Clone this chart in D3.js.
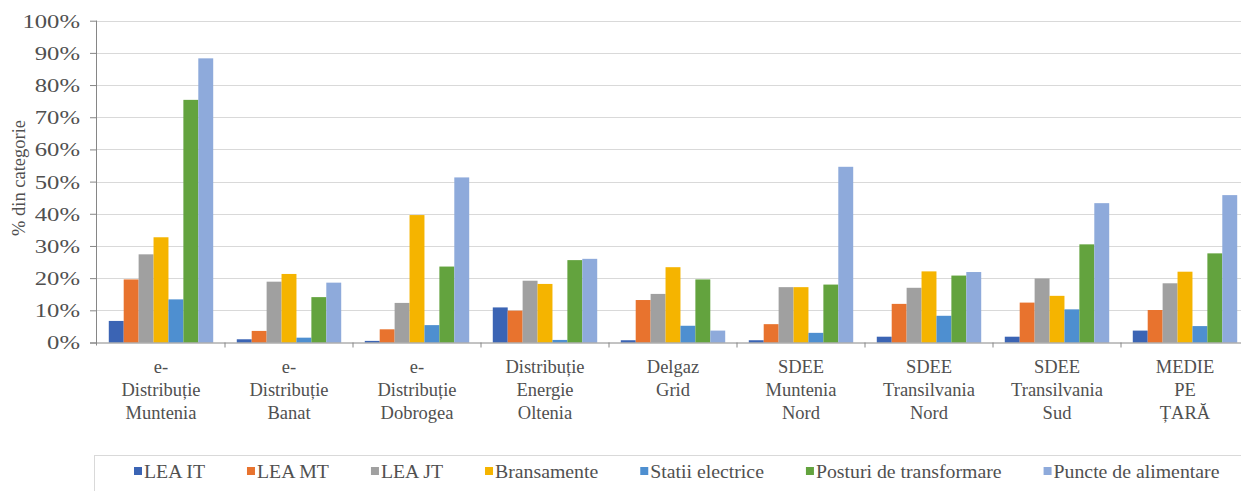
<!DOCTYPE html>
<html><head><meta charset="utf-8">
<script src="https://cdn.jsdelivr.net/npm/d3@7"></script>
<style>body{margin:0;background:#fff}svg{display:block}</style>
</head><body><svg id="c" width="1241" height="491"></svg>
<script>
const categories = [
  ["e-","Distribuție","Muntenia"],
  ["e-","Distribuție","Banat"],
  ["e-","Distribuție","Dobrogea"],
  ["Distribuție","Energie","Oltenia"],
  ["Delgaz","Grid"],
  ["SDEE","Muntenia","Nord"],
  ["SDEE","Transilvania","Nord"],
  ["SDEE","Transilvania","Sud"],
  ["MEDIE","PE","ȚARĂ"]
];
const seriesNames = ["LEA IT","LEA MT","LEA JT","Bransamente","Statii electrice","Posturi de transformare","Puncte de alimentare"];
const seriesColors = ["#3b64b4","#e8732e","#a0a0a0","#f5b400","#4e8fd0","#63a33e","#8eaadb"];
const leaIT      = [6.7, 1.0, 0.5, 10.9, 0.7, 0.7, 1.8, 1.8, 3.7];
const leaMT      = [19.6, 3.6, 4.1, 9.9, 13.2, 5.7, 12.0, 12.4, 10.1];
const leaJT      = [27.4, 18.9, 12.3, 19.2, 15.1, 17.2, 17.0, 19.9, 18.4];
const bransam    = [32.7, 21.3, 39.6, 18.2, 23.4, 17.2, 22.1, 14.5, 22.0];
const statii     = [13.4, 1.5, 5.4, 0.8, 5.2, 3.0, 8.3, 10.3, 5.1];
const posturi    = [75.4, 14.1, 23.6, 25.6, 19.6, 18.0, 20.8, 30.5, 27.7];
const puncte     = [88.3, 18.6, 51.3, 26.0, 3.7, 54.6, 21.9, 43.3, 45.8];
const yTicks = [0,10,20,30,40,50,60,70,80,90,100];
const yTitle = "% din categorie";

(function(){
const FONT = "'Liberation Serif', 'DejaVu Serif'";
const TXT = "#505050";
const serif = sel => sel.style("font-family", FONT);
const series = [leaIT, leaMT, leaJT, bransam, statii, posturi, puncte];
const svg = d3.select("#c");
const pLeft = 97, pRight = 1249, pTop = 20.7, pBottom = 342.5;

const x0 = d3.scaleBand().domain(d3.range(categories.length)).range([pLeft, pRight]).padding(0);
const x1 = d3.scaleBand().domain(d3.range(series.length)).range([0, x0.bandwidth()]).paddingInner(0).paddingOuter(0.79);
const y = d3.scaleLinear().domain([0,100]).range([pBottom, pTop]);

// gridlines
svg.append("g").selectAll("line").data(yTicks.filter(t=>t>0)).join("line")
  .attr("x1", pLeft).attr("x2", 1241).attr("y1", d=>Math.round(y(d))+0.5).attr("y2", d=>Math.round(y(d))+0.5)
  .attr("stroke", "#d9d9d9").attr("stroke-width", 1);

// bars
const g = svg.append("g").selectAll("g").data(categories).join("g")
  .attr("transform", (d,i)=>`translate(${x0(i)},0)`);
g.selectAll("rect").data((d,i)=>series.map((s,j)=>({j, v:s[i]}))).join("rect")
  .attr("x", d=>x1(d.j)).attr("width", x1.bandwidth())
  .attr("y", d=>y(d.v)).attr("height", d=>pBottom - y(d.v))
  .attr("fill", d=>seriesColors[d.j]);

// y axis
const yAxis = svg.append("g").attr("transform", `translate(${pLeft},0)`)
  .call(d3.axisLeft(y).tickValues(yTicks).tickFormat(d=>d+"%").tickSize(7).tickPadding(0));
yAxis.attr("font-family", null);
yAxis.select(".domain").attr("stroke", "#868686").attr("d", `M-0.5,${pTop}V${pBottom+3}`);
yAxis.selectAll(".tick line").attr("stroke", "#868686");
yAxis.selectAll(".tick text").call(serif).attr("font-size", 19).attr("fill", TXT)
  .attr("x", null).attr("dy", "0.34em")
  .attr("transform", "translate(-17,0) scale(1.3,1)");

// x axis
const xAxis = svg.append("g").attr("transform", `translate(0,${pBottom})`);
xAxis.append("line").attr("x1", pLeft-7).attr("x2", 1241).attr("y1",0.5).attr("y2",0.5).attr("stroke","#868686");
xAxis.selectAll("line.t").data(d3.range(1, categories.length)).join("line").attr("class","t")
  .attr("x1", i=>x0(i)).attr("x2", i=>x0(i)).attr("y1", 0).attr("y2", 5).attr("stroke","#868686");

// category labels
const cl = svg.append("g").selectAll("text").data(categories).join("text")
  .call(serif).attr("text-anchor","middle").attr("font-size", 18.5).attr("fill", TXT);
cl.each(function(d,i){
  const t = d3.select(this);
  d.forEach((line,k)=>{
    t.append("tspan").attr("x", x0(i)+x0.bandwidth()/2).attr("y", 373 + k*23).text(line);
  });
});

// y title
svg.append("text").call(serif).attr("transform", "translate(25,178) rotate(-90)")
  .attr("text-anchor","middle").attr("font-size", 18.5).attr("fill", TXT).text(yTitle);

// legend
svg.append("rect").attr("x", 94.5).attr("y", 455.5).attr("width", 1200).attr("height", 60)
  .attr("fill","none").attr("stroke","#d9d9d9");
const lg = svg.append("g");
let lx = 134;
const sx = 1.07;
seriesNames.forEach((name,j)=>{
  lg.append("rect").attr("x", lx).attr("y", 467).attr("width", 8).attr("height", 8).attr("fill", seriesColors[j]);
  const t = lg.append("text").call(serif).attr("transform", `translate(${lx+10},478) scale(${sx},1)`)
    .attr("font-size", 18.5).attr("fill", TXT).text(name);
  const w = t.node().getComputedTextLength() * sx;
  lx += 10 + w + 42;
});
})();
</script></body></html>
